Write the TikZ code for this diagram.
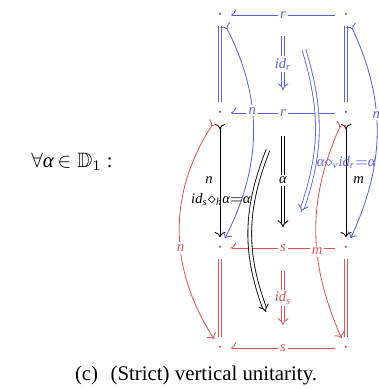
\documentclass[tikz,border=0pt]{standalone}
\usepackage{amsmath,amssymb}
\usepackage{fontspec}
\setmainfont{Liberation Serif}
\usetikzlibrary{positioning,arrows.meta}
\definecolor{hblue}{RGB}{88,96,222}
\definecolor{vred}{RGB}{222,84,84}

\begin{document}
\begin{tikzpicture}[x=0.48pt, y=-0.48pt,
    obj/.style={circle, inner sep=0pt, minimum size=10pt},
    lbl/.style={fill=white, inner sep=1pt},
    pro/.style={{Computer Modern Rightarrow[right]}-},
    eq/.style={double, double distance=1.4pt},
    cell/.style={double, double distance=1.4pt, -{Implies}},
    vert/.style={{Computer Modern Rightarrow[reversed]}-{Computer Modern Rightarrow}}
]
\useasboundingbox (0,0) rectangle (378,389);

\node[obj, hblue] (tl) at (220,15) {$\cdot$};
\node[obj, hblue] (tr) at (346,15) {$\cdot$};
\node[obj, hblue] (ml) at (220,113) {$\cdot$};
\node[obj, hblue] (mr) at (346,113) {$\cdot$};
\node[obj, vred] (sl) at (220,248) {$\cdot$};
\node[obj, vred] (sr) at (346,248) {$\cdot$};
\node[obj, vred] (bl) at (220,348) {$\cdot$};
\node[obj, vred] (br) at (346,348) {$\cdot$};

\draw[pro, hblue] (tl) -- node[lbl] (rt) {$\scriptstyle\textit{r}$} (tr);
\draw[pro, hblue] (ml) -- node[lbl] (rm) {$\scriptstyle\textit{r}$} (mr);
\draw[pro, vred] (sl) -- node[lbl] (ss) {$\scriptstyle\textit{s}$} (sr);
\draw[pro, vred] (bl) -- node[lbl] (sb) {$\scriptstyle\textit{s}$} (br);

\draw[eq, hblue] (tl) -- (ml);
\draw[eq, hblue] (tr) -- (mr);
\draw[eq, vred] (sl) -- (bl);
\draw[eq, vred] (sr) -- (br);

\draw[cell, hblue, shorten <=7pt, shorten >=8pt] (rt) -- node[lbl] {$\scriptstyle\textit{id}_{\textit{r}}$} (rm);
\draw[cell, shorten <=8pt, shorten >=7pt] (rm) -- node[lbl] {$\scriptstyle\textit{α}$} (ss);
\draw[cell, vred, shorten <=8pt, shorten >=8pt] (ss) -- node[lbl] {$\scriptstyle\textit{id}_{\textit{s}}$} (sb);

\draw[vert] (ml) -- node[left] {$\scriptstyle\textit{n}$} (sl);
\draw[vert] (mr) -- node[right] {$\scriptstyle\textit{m}$} (sr);

\draw[vert, hblue] (tl) to[bend left=27] node[lbl, pos=.4] {$\scriptstyle\textit{n}$} (sl);
\draw[vert, hblue] (tr) to[bend left=25] node[lbl, pos=.42] {$\scriptstyle\textit{n}$} (sr);
\draw[vert, vred] (ml) to[bend right=33] node[lbl, pos=.58] {$\scriptstyle\textit{n}$} (bl);
\draw[vert, vred] (mr) to[bend right=24] node[lbl, pos=.6] {$\scriptstyle\textit{m}$} (br);

\coordinate (u1) at (304,50);
\coordinate (u2) at (301,212);
\coordinate (k1) at (268,150);
\coordinate (k2) at (266,312);
\draw[cell, hblue] (u1) to[bend left=18] node[right, pos=.7, inner sep=1pt] {$\scriptstyle\textit{α}\diamond_{\textit{v}}\textit{id}_{\textit{r}}{=}\textit{α}$} (u2);
\draw[cell] (k1) to[bend right=21] node[left, pos=.3, inner sep=1pt] {$\scriptstyle\textit{id}_{\textit{s}}\diamond_{\textit{h}}\textit{α}{=}\textit{α}$} (k2);

\node (fa) at (72,162) {$\forall$\textit{α}$\,\in\mathbb{D}_1$\ :};
\node (cap) at (196,376) {(c)\hspace{6pt}(Strict) vertical unitarity.};
\end{tikzpicture}
\end{document}
